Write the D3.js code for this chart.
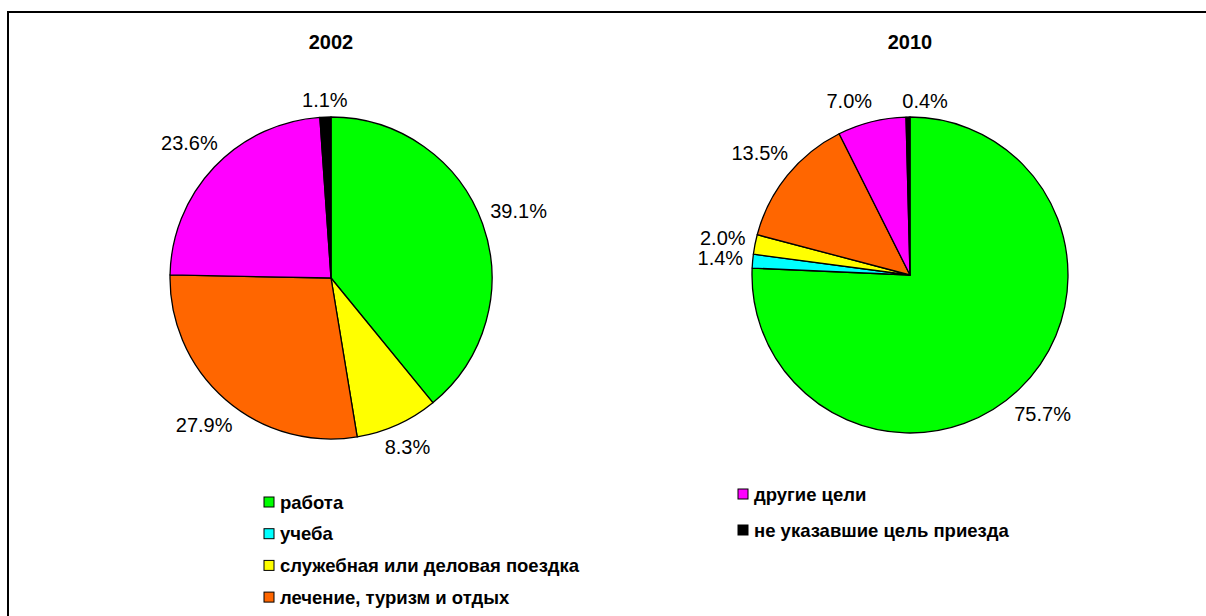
<!DOCTYPE html>
<html><head><meta charset="utf-8">
<script src="https://cdn.jsdelivr.net/npm/d3@7"></script>
<style>body{margin:0;background:#fff;} svg{display:block;}</style>
</head><body>
<svg id="chart" width="1206" height="616"></svg>
<script>
const categories = ['работа','учеба','служебная или деловая поездка','лечение, туризм и отдых','другие цели','не указавшие цель приезда'];
const colors = ['#00ff00','#00ffff','#ffff00','#ff6600','#ff00ff','#000000'];
const years = ['2002','2010'];
const values2002 = [39.1, 0, 8.3, 27.9, 23.6, 1.1];
const values2010 = [75.7, 1.4, 2.0, 13.5, 7.0, 0.4];

const svg = d3.select('#chart');
const font = 'Arial, "Liberation Sans", sans-serif';

// frame
svg.append('rect').attr('x',8).attr('y',12).attr('width',1300).attr('height',700)
  .attr('fill','none').attr('stroke','#000').attr('stroke-width',2);

const pies = [
  {year: years[0], values: values2002, cx: 331, cy: 278, r: 161},
  {year: years[1], values: values2010, cx: 910, cy: 275, r: 158}
];

const pie = d3.pie().sort(null).value(d => d.v);
const color = d3.scaleOrdinal().domain(categories).range(colors);

pies.forEach(p => {
  const g = svg.append('g').attr('transform', `translate(${p.cx},${p.cy})`);
  const data = categories.map((c,i) => ({c, v: p.values[i]}));
  const arcs = pie(data);
  const arc = d3.arc().innerRadius(0).outerRadius(p.r);
  g.selectAll('path').data(arcs.filter(a => a.data.v > 0)).join('path')
    .attr('d', arc).attr('fill', d => color(d.data.c))
    .attr('stroke', '#000').attr('stroke-width', 1.3).attr('stroke-linejoin','round');

  svg.append('text').attr('x', p.cx).attr('y', 49).attr('text-anchor','middle')
    .attr('font-family', font).attr('font-weight','bold').attr('font-size', 20)
    .text(p.year);

  const labels = [];
  arcs.filter(a => a.data.v > 0).forEach(a => {
    const mid = (a.startAngle + a.endAngle) / 2;
    const s = Math.sin(mid), c = -Math.cos(mid);
    const t = g.append('text').attr('font-family', font).attr('font-size', 20)
      .attr('text-anchor','middle').attr('dominant-baseline','central')
      .attr('fill','#000')
      .text(d3.format('.1f')(a.data.v) + '%');
    const bb = t.node().getBBox();
    const h = 14;
    const dist = p.r + 9 + Math.abs(s) * bb.width / 2 + Math.abs(c) * h / 2;
    labels.push({t, x: s * dist, y: c * dist, w: bb.width, h: 20});
  });
  // simple overlap resolution: push apart horizontally
  for (let iter = 0; iter < 10; iter++) {
    for (let i = 0; i < labels.length; i++) {
      for (let j = i + 1; j < labels.length; j++) {
        const A = labels[i], B = labels[j];
        const ox = (A.w + B.w) / 2 + 30 - Math.abs(A.x - B.x);
        const oy = (A.h + B.h) / 2 - Math.abs(A.y - B.y);
        if (ox > 0 && oy > 0) {
          const dir = A.x < B.x ? -1 : 1;
          A.x += dir * ox / 2; B.x -= dir * ox / 2;
        }
      }
    }
  }
  labels.forEach(L => L.t.attr('x', L.x).attr('y', L.y));
});

// legend
const legendCols = [
  {x: 264, y0: 502, items: categories.slice(0,4)},
  {x: 738, y0: 494, items: categories.slice(4)}
];
const rowStep = [31.7, 36];
legendCols.forEach((col, ci) => {
  col.items.forEach((c, i) => {
    const y = col.y0 + i * rowStep[ci];
    svg.append('rect').attr('x', col.x).attr('y', y - 5).attr('width', 10).attr('height', 10)
      .attr('fill', color(c)).attr('stroke', '#000').attr('stroke-width', 1);
    svg.append('text').attr('x', col.x + 16).attr('y', y).attr('dominant-baseline','central')
      .attr('font-family', font).attr('font-weight','bold').attr('font-size', 18.5)
      .text(c);
  });
});
</script>
</body></html>
